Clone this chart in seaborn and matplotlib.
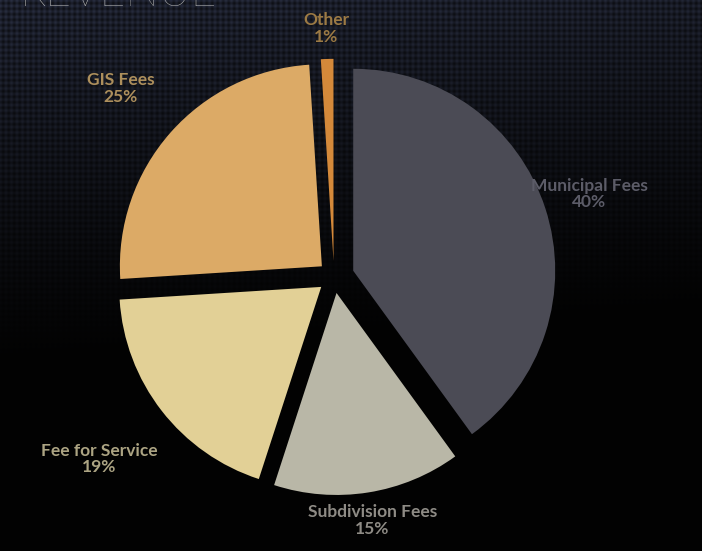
import numpy as np
import matplotlib
matplotlib.use("Agg")
import matplotlib.pyplot as plt
import seaborn as sns

# ---- data ----
categories = ["Municipal Fees", "Subdivision Fees", "Fee for Service", "GIS Fees", "Other"]
shares = [40, 15, 19, 25, 1]
pct_labels = ["40%", "15%", "19%", "25%", "1%"]
slice_colors = ["#4b4b55", "#b9b7a7", "#e2d096", "#dcaa66", "#d4893a"]
label_colors = ["#5c5c68", "#8e8b85", "#aca483", "#ad8f5c", "#9c7a44"]
label_dist = [1.33, 1.22, 1.47, 1.41, 1.23]
explode = [0.10, 0.08, 0.08, 0.08, 0.08]

sns.set_theme(style="dark")
plt.rcParams["font.family"] = ["Lato", "DejaVu Sans"]

W, H = 702, 551
fig = plt.figure(figsize=(W / 100, H / 100), dpi=100)

# background: dark navy to black gradient with a dotted texture
bg = fig.add_axes([0, 0, 1, 1])
yy, xx = np.mgrid[0:H, 0:W]
t = np.clip(1 - yy / 360.0 - (xx / W) * 0.15, 0, 1)
top = np.array([0x1c, 0x20, 0x2e]) / 255.0
base = top[None, None, :] * t[..., None] ** 1.2
pattern = 0.5 + 0.5 * np.cos(2 * np.pi * (xx + yy) / 11.0) * np.cos(2 * np.pi * (xx - yy) / 11.0)
img = base * (0.45 + 0.9 * pattern[..., None])
img = np.clip(img + 0.01, 0, 1)
bg.imshow(img, aspect="auto", extent=[0, 1, 0, 1], origin="upper")
bg.set_axis_off()

# pie axes, unit radius -> R pixels
R = 202.0
cx, cy = 334.0, 277.0  # pixel position of the pie centre (from top)
ax = fig.add_axes([0, 0, 1, 1])
ax.set_facecolor("none")
ax.set_axis_off()

wedges, _ = ax.pie(shares, colors=slice_colors, startangle=90, counterclock=False,
                   explode=explode, radius=1.0, wedgeprops=dict(linewidth=0),
                   center=(0, 0), frame=False)
ax.set_xlim(-cx / R, (W - cx) / R)
ax.set_ylim(-(H - cy) / R, cy / R)
ax.set_aspect("auto")

for w, name, pct, col, d in zip(wedges, categories, pct_labels, label_colors, label_dist):
    ang = np.deg2rad((w.theta1 + w.theta2) / 2)
    x, y = d * np.cos(ang), d * np.sin(ang)
    ax.text(x, y, f"{name}\n{pct}", ha="center", va="center", color=col,
            fontsize=12.5, fontweight="bold", linespacing=1.05)

fig.text(20 / W, 1 - 6 / H, "REVENUE", ha="left", va="baseline", color="#c9c9c6",
         fontsize=32, fontweight="light")

fig.savefig("out.png", dpi=100, facecolor="black")
